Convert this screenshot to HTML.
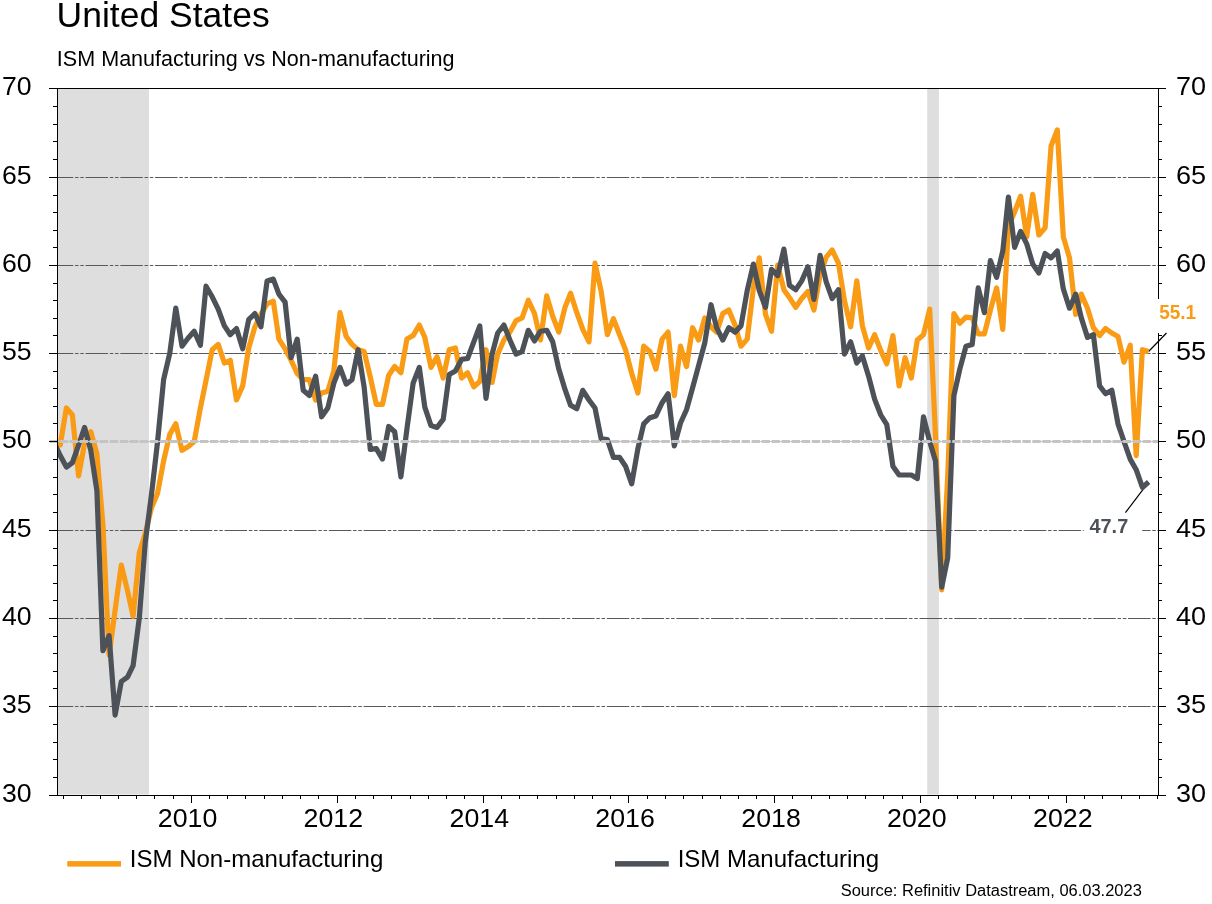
<!DOCTYPE html>
<html lang="en"><head><meta charset="utf-8"><title>United States - ISM Manufacturing vs Non-manufacturing</title>
<style>html,body{margin:0;padding:0;background:#fff}svg{display:block}text{font-family:"Liberation Sans",sans-serif;fill:#000}</style></head><body>
<svg width="1212" height="904" viewBox="0 0 1212 904">
<rect x="0" y="0" width="1212" height="904" fill="#fff"/>
<defs><clipPath id="plot"><rect x="58" y="89" width="1100" height="706"/></clipPath></defs>
<rect x="58" y="89" width="91.0" height="705.5" fill="#dedede"/>
<rect x="927.2" y="89" width="11.7" height="705.5" fill="#dedede"/>
<line x1="50.8" x2="1158" y1="706.5" y2="706.5" stroke="#595959" stroke-width="1" stroke-dasharray="22.5 1.75 3.5 1.75 3.5 1.75"/>
<line x1="50.8" x2="1158" y1="618.5" y2="618.5" stroke="#595959" stroke-width="1" stroke-dasharray="22.5 1.75 3.5 1.75 3.5 1.75"/>
<line x1="50.8" x2="1158" y1="530.5" y2="530.5" stroke="#595959" stroke-width="1" stroke-dasharray="22.5 1.75 3.5 1.75 3.5 1.75"/>
<line x1="50.8" x2="1158" y1="353.5" y2="353.5" stroke="#595959" stroke-width="1" stroke-dasharray="22.5 1.75 3.5 1.75 3.5 1.75"/>
<line x1="50.8" x2="1158" y1="265.5" y2="265.5" stroke="#595959" stroke-width="1" stroke-dasharray="22.5 1.75 3.5 1.75 3.5 1.75"/>
<line x1="50.8" x2="1158" y1="177.5" y2="177.5" stroke="#595959" stroke-width="1" stroke-dasharray="22.5 1.75 3.5 1.75 3.5 1.75"/>
<line x1="1148.6" y1="351.5" x2="1166.5" y2="333" stroke="#000" stroke-width="1.2"/>
<rect x="1083.7" y="513" width="58.5" height="30" fill="#fff"/>
<line x1="1148.6" y1="482.1" x2="1125.4" y2="512.7" stroke="#000" stroke-width="1.2"/>
<g clip-path="url(#plot)" fill="none" stroke-linejoin="round" stroke-linecap="butt">
<path d="M54.4,445.0 L60.2,445.0 L66.4,408.0 L72.4,415.0 L78.6,475.9 L84.6,443.3 L90.8,431.8 L96.9,453.9 L102.9,524.5 L109.1,655.1 L115.1,610.1 L121.3,565.0 L127.5,590.6 L133.1,616.2 L139.3,552.7 L145.3,533.3 L151.5,507.7 L157.5,493.6 L163.6,460.9 L169.8,434.4 L175.8,423.8 L182.0,450.3 L188.0,446.8 L194.2,441.5 L200.4,408.0 L206.0,380.6 L212.2,349.7 L218.2,344.4 L224.4,363.0 L230.3,360.3 L236.5,400.0 L242.7,385.9 L248.7,348.0 L254.9,326.8 L260.9,314.4 L267.1,303.8 L273.3,301.2 L278.9,339.1 L285.1,348.8 L291.1,360.3 L297.2,373.5 L303.2,379.7 L309.4,379.7 L315.6,400.0 L321.6,393.0 L327.8,391.2 L333.8,370.9 L340.0,312.7 L346.2,336.5 L352.0,344.4 L358.1,349.7 L364.1,351.5 L370.3,377.1 L376.3,404.4 L382.5,404.4 L388.7,375.3 L394.7,366.5 L400.9,372.7 L406.9,339.1 L413.1,335.6 L419.3,325.0 L424.8,337.4 L431.0,367.4 L437.0,356.8 L443.2,378.0 L449.2,349.7 L455.4,348.0 L461.6,378.0 L467.6,372.7 L473.8,386.8 L479.8,381.5 L486.0,349.7 L492.1,382.4 L497.7,354.1 L503.9,340.0 L509.9,332.1 L516.1,320.6 L522.1,317.9 L528.3,300.3 L534.5,313.5 L540.5,340.0 L546.7,295.9 L552.7,316.2 L558.8,332.1 L565.0,307.4 L570.6,293.2 L576.8,312.7 L582.8,329.4 L589.0,341.8 L595.0,263.2 L601.2,291.5 L607.4,334.7 L613.4,318.8 L619.6,334.7 L625.5,349.7 L631.7,373.5 L637.9,393.0 L643.7,346.2 L649.9,351.5 L655.9,369.1 L662.1,339.1 L668.1,332.1 L674.3,395.6 L680.5,346.2 L686.5,366.5 L692.6,327.7 L698.6,340.0 L704.8,317.9 L711.0,326.8 L716.6,332.1 L722.8,313.5 L728.8,310.0 L735.0,325.0 L741.0,346.2 L747.2,339.1 L753.4,287.9 L759.3,257.9 L765.5,314.4 L771.5,331.2 L777.7,265.0 L783.9,289.7 L789.5,297.7 L795.7,307.4 L801.7,298.5 L807.9,291.5 L813.9,310.0 L820.1,274.7 L826.2,257.1 L832.2,250.0 L838.4,263.2 L844.4,300.3 L850.6,326.8 L856.8,280.9 L862.4,325.9 L868.6,348.0 L874.6,334.7 L880.8,350.6 L886.8,363.8 L892.9,335.6 L899.1,385.9 L905.1,357.7 L911.3,378.0 L917.3,340.0 L923.5,334.7 L929.7,309.1 L935.5,436.2 L941.7,589.8 L947.7,476.8 L953.9,313.5 L959.8,323.2 L966.0,317.1 L972.2,317.9 L978.2,333.8 L984.4,333.8 L990.4,310.0 L996.6,287.9 L1002.8,329.4 L1008.4,226.2 L1014.6,212.0 L1020.6,196.2 L1026.7,236.8 L1032.7,194.4 L1038.9,235.0 L1045.1,227.9 L1051.1,145.9 L1057.3,130.0 L1063.3,236.8 L1069.5,257.9 L1075.7,314.4 L1081.3,294.1 L1087.5,308.2 L1093.4,327.7 L1099.6,335.6 L1105.6,328.5 L1111.8,333.0 L1118.0,336.5 L1124.0,362.1 L1130.2,345.3 L1136.2,455.6 L1142.4,349.7 L1148.6,351.5" stroke="#f99b14" stroke-width="5.2"/>
<path d="M54.4,443.3 L60.2,455.6 L66.4,467.1 L72.4,462.7 L78.6,445.0 L84.6,427.4 L90.8,450.3 L96.9,490.9 L102.9,650.7 L109.1,635.6 L115.1,715.1 L121.3,681.5 L127.5,677.1 L133.1,665.7 L139.3,618.0 L145.3,542.1 L151.5,494.4 L157.5,442.4 L163.6,379.7 L169.8,353.2 L175.8,308.2 L182.0,346.2 L188.0,338.2 L194.2,331.2 L200.4,345.3 L206.0,286.2 L212.2,296.8 L218.2,309.1 L224.4,325.9 L230.3,334.7 L236.5,328.5 L242.7,348.8 L248.7,319.7 L254.9,313.5 L260.9,326.8 L267.1,280.9 L273.3,279.1 L278.9,294.1 L285.1,302.1 L291.1,357.7 L297.2,339.1 L303.2,390.3 L309.4,395.6 L315.6,376.2 L321.6,416.8 L327.8,408.0 L333.8,383.3 L340.0,367.4 L346.2,384.1 L352.0,379.7 L358.1,349.7 L364.1,386.8 L370.3,449.4 L376.3,448.6 L382.5,459.1 L388.7,426.5 L394.7,431.8 L400.9,476.8 L406.9,429.1 L413.1,383.3 L419.3,367.4 L424.8,407.1 L431.0,425.6 L437.0,427.4 L443.2,419.4 L449.2,374.4 L455.4,370.9 L461.6,359.4 L467.6,358.5 L473.8,341.8 L479.8,325.9 L486.0,398.3 L492.1,354.1 L497.7,333.0 L503.9,325.0 L509.9,340.0 L516.1,354.1 L522.1,351.5 L528.3,330.3 L534.5,340.9 L540.5,331.2 L546.7,330.3 L552.7,341.8 L558.8,369.1 L565.0,389.4 L570.6,405.3 L576.8,408.8 L582.8,390.3 L589.0,400.0 L595.0,408.0 L601.2,438.9 L607.4,439.7 L613.4,457.4 L619.6,457.4 L625.5,466.2 L631.7,483.9 L637.9,448.6 L643.7,423.8 L649.9,417.7 L655.9,415.9 L662.1,402.7 L668.1,393.8 L674.3,445.9 L680.5,423.0 L686.5,409.7 L692.6,387.7 L698.6,365.6 L704.8,342.7 L711.0,304.7 L716.6,327.7 L722.8,340.0 L728.8,327.7 L735.0,332.1 L741.0,325.9 L747.2,290.6 L753.4,264.1 L759.3,290.6 L765.5,307.4 L771.5,269.4 L777.7,275.6 L783.9,249.1 L789.5,285.3 L795.7,289.7 L801.7,280.9 L807.9,266.8 L813.9,299.4 L820.1,255.3 L826.2,281.8 L832.2,298.5 L838.4,289.7 L844.4,354.1 L850.6,341.8 L856.8,363.0 L862.4,355.9 L868.6,376.2 L874.6,399.1 L880.8,415.0 L886.8,424.7 L892.9,466.2 L899.1,475.0 L905.1,475.0 L911.3,475.0 L917.3,478.6 L923.5,416.8 L929.7,441.5 L935.5,460.9 L941.7,587.1 L947.7,558.0 L953.9,395.6 L959.8,369.1 L966.0,346.2 L972.2,344.4 L978.2,287.9 L984.4,312.7 L990.4,260.6 L996.6,277.4 L1002.8,250.9 L1008.4,197.0 L1014.6,247.3 L1020.6,231.5 L1026.7,243.8 L1032.7,264.1 L1038.9,272.9 L1045.1,253.5 L1051.1,257.9 L1057.3,250.9 L1063.3,288.8 L1069.5,308.2 L1075.7,294.1 L1081.3,317.9 L1087.5,337.4 L1093.4,334.7 L1099.6,385.9 L1105.6,393.8 L1111.8,390.3 L1118.0,423.8 L1124.0,441.5 L1130.2,459.1 L1136.2,469.7 L1142.4,487.4 L1148.6,482.1" stroke="#4c5257" stroke-width="5.2"/>
</g>
<line x1="49.6" x2="1158" y1="441.5" y2="441.5" stroke="#c4c4c4" stroke-width="1" stroke-dasharray="58.6 1.7 8.2 1.7"/>
<line x1="49.6" x2="1158" y1="441.5" y2="441.5" stroke="#c4c4c4" stroke-width="3" stroke-dasharray="8.3 1.7 8.3 1.7 8.3 1.7 8.3 1.7 8.3 1.7 8.6 1.7 8.2 1.7"/>
<g stroke="#000" stroke-width="1" shape-rendering="crispEdges">
<line x1="49" x2="1166" y1="88.5" y2="88.5"/>
<line x1="49" x2="1166" y1="795.5" y2="795.5"/>
<line x1="57.5" x2="57.5" y1="88" y2="796"/>
<line x1="1158.5" x2="1158.5" y1="88" y2="299"/>
<line x1="1158.5" x2="1158.5" y1="333" y2="796"/>
<line x1="49" x2="57" y1="795.5" y2="795.5"/>
<line x1="1159" x2="1166" y1="795.5" y2="795.5"/>
<line x1="53" x2="57" y1="777.5" y2="777.5"/>
<line x1="1159" x2="1162" y1="777.5" y2="777.5"/>
<line x1="53" x2="57" y1="759.5" y2="759.5"/>
<line x1="1159" x2="1162" y1="759.5" y2="759.5"/>
<line x1="53" x2="57" y1="742.5" y2="742.5"/>
<line x1="1159" x2="1162" y1="742.5" y2="742.5"/>
<line x1="53" x2="57" y1="724.5" y2="724.5"/>
<line x1="1159" x2="1162" y1="724.5" y2="724.5"/>
<line x1="49" x2="57" y1="706.5" y2="706.5"/>
<line x1="1159" x2="1166" y1="706.5" y2="706.5"/>
<line x1="53" x2="57" y1="688.5" y2="688.5"/>
<line x1="1159" x2="1162" y1="688.5" y2="688.5"/>
<line x1="53" x2="57" y1="671.5" y2="671.5"/>
<line x1="1159" x2="1162" y1="671.5" y2="671.5"/>
<line x1="53" x2="57" y1="653.5" y2="653.5"/>
<line x1="1159" x2="1162" y1="653.5" y2="653.5"/>
<line x1="53" x2="57" y1="636.5" y2="636.5"/>
<line x1="1159" x2="1162" y1="636.5" y2="636.5"/>
<line x1="49" x2="57" y1="618.5" y2="618.5"/>
<line x1="1159" x2="1166" y1="618.5" y2="618.5"/>
<line x1="53" x2="57" y1="600.5" y2="600.5"/>
<line x1="1159" x2="1162" y1="600.5" y2="600.5"/>
<line x1="53" x2="57" y1="583.5" y2="583.5"/>
<line x1="1159" x2="1162" y1="583.5" y2="583.5"/>
<line x1="53" x2="57" y1="565.5" y2="565.5"/>
<line x1="1159" x2="1162" y1="565.5" y2="565.5"/>
<line x1="53" x2="57" y1="548.5" y2="548.5"/>
<line x1="1159" x2="1162" y1="548.5" y2="548.5"/>
<line x1="49" x2="57" y1="530.5" y2="530.5"/>
<line x1="1159" x2="1166" y1="530.5" y2="530.5"/>
<line x1="53" x2="57" y1="512.5" y2="512.5"/>
<line x1="1159" x2="1162" y1="512.5" y2="512.5"/>
<line x1="53" x2="57" y1="494.5" y2="494.5"/>
<line x1="1159" x2="1162" y1="494.5" y2="494.5"/>
<line x1="53" x2="57" y1="477.5" y2="477.5"/>
<line x1="1159" x2="1162" y1="477.5" y2="477.5"/>
<line x1="53" x2="57" y1="459.5" y2="459.5"/>
<line x1="1159" x2="1162" y1="459.5" y2="459.5"/>
<line x1="49" x2="57" y1="441.5" y2="441.5"/>
<line x1="1159" x2="1166" y1="441.5" y2="441.5"/>
<line x1="53" x2="57" y1="423.5" y2="423.5"/>
<line x1="1159" x2="1162" y1="423.5" y2="423.5"/>
<line x1="53" x2="57" y1="406.5" y2="406.5"/>
<line x1="1159" x2="1162" y1="406.5" y2="406.5"/>
<line x1="53" x2="57" y1="388.5" y2="388.5"/>
<line x1="1159" x2="1162" y1="388.5" y2="388.5"/>
<line x1="53" x2="57" y1="371.5" y2="371.5"/>
<line x1="1159" x2="1162" y1="371.5" y2="371.5"/>
<line x1="49" x2="57" y1="353.5" y2="353.5"/>
<line x1="1159" x2="1166" y1="353.5" y2="353.5"/>
<line x1="53" x2="57" y1="335.5" y2="335.5"/>
<line x1="1159" x2="1162" y1="335.5" y2="335.5"/>
<line x1="53" x2="57" y1="318.5" y2="318.5"/>
<line x1="53" x2="57" y1="300.5" y2="300.5"/>
<line x1="53" x2="57" y1="283.5" y2="283.5"/>
<line x1="1159" x2="1162" y1="283.5" y2="283.5"/>
<line x1="49" x2="57" y1="265.5" y2="265.5"/>
<line x1="1159" x2="1166" y1="265.5" y2="265.5"/>
<line x1="53" x2="57" y1="247.5" y2="247.5"/>
<line x1="1159" x2="1162" y1="247.5" y2="247.5"/>
<line x1="53" x2="57" y1="230.5" y2="230.5"/>
<line x1="1159" x2="1162" y1="230.5" y2="230.5"/>
<line x1="53" x2="57" y1="212.5" y2="212.5"/>
<line x1="1159" x2="1162" y1="212.5" y2="212.5"/>
<line x1="53" x2="57" y1="195.5" y2="195.5"/>
<line x1="1159" x2="1162" y1="195.5" y2="195.5"/>
<line x1="49" x2="57" y1="177.5" y2="177.5"/>
<line x1="1159" x2="1166" y1="177.5" y2="177.5"/>
<line x1="53" x2="57" y1="159.5" y2="159.5"/>
<line x1="1159" x2="1162" y1="159.5" y2="159.5"/>
<line x1="53" x2="57" y1="141.5" y2="141.5"/>
<line x1="1159" x2="1162" y1="141.5" y2="141.5"/>
<line x1="53" x2="57" y1="124.5" y2="124.5"/>
<line x1="1159" x2="1162" y1="124.5" y2="124.5"/>
<line x1="53" x2="57" y1="106.5" y2="106.5"/>
<line x1="1159" x2="1162" y1="106.5" y2="106.5"/>
<line x1="49" x2="57" y1="88.5" y2="88.5"/>
<line x1="1159" x2="1166" y1="88.5" y2="88.5"/>
<line x1="63.5" x2="63.5" y1="796" y2="799"/>
<line x1="81.5" x2="81.5" y1="796" y2="799"/>
<line x1="100.5" x2="100.5" y1="796" y2="799"/>
<line x1="118.5" x2="118.5" y1="796" y2="799"/>
<line x1="136.5" x2="136.5" y1="796" y2="799"/>
<line x1="154.5" x2="154.5" y1="796" y2="799"/>
<line x1="173.5" x2="173.5" y1="796" y2="799"/>
<line x1="191.5" x2="191.5" y1="796" y2="803"/>
<line x1="209.5" x2="209.5" y1="796" y2="799"/>
<line x1="227.5" x2="227.5" y1="796" y2="799"/>
<line x1="245.5" x2="245.5" y1="796" y2="799"/>
<line x1="264.5" x2="264.5" y1="796" y2="799"/>
<line x1="282.5" x2="282.5" y1="796" y2="799"/>
<line x1="300.5" x2="300.5" y1="796" y2="799"/>
<line x1="318.5" x2="318.5" y1="796" y2="799"/>
<line x1="337.5" x2="337.5" y1="796" y2="803"/>
<line x1="355.5" x2="355.5" y1="796" y2="799"/>
<line x1="373.5" x2="373.5" y1="796" y2="799"/>
<line x1="391.5" x2="391.5" y1="796" y2="799"/>
<line x1="410.5" x2="410.5" y1="796" y2="799"/>
<line x1="428.5" x2="428.5" y1="796" y2="799"/>
<line x1="446.5" x2="446.5" y1="796" y2="799"/>
<line x1="464.5" x2="464.5" y1="796" y2="799"/>
<line x1="483.5" x2="483.5" y1="796" y2="803"/>
<line x1="501.5" x2="501.5" y1="796" y2="799"/>
<line x1="519.5" x2="519.5" y1="796" y2="799"/>
<line x1="537.5" x2="537.5" y1="796" y2="799"/>
<line x1="556.5" x2="556.5" y1="796" y2="799"/>
<line x1="574.5" x2="574.5" y1="796" y2="799"/>
<line x1="592.5" x2="592.5" y1="796" y2="799"/>
<line x1="610.5" x2="610.5" y1="796" y2="799"/>
<line x1="628.5" x2="628.5" y1="796" y2="803"/>
<line x1="647.5" x2="647.5" y1="796" y2="799"/>
<line x1="665.5" x2="665.5" y1="796" y2="799"/>
<line x1="683.5" x2="683.5" y1="796" y2="799"/>
<line x1="702.5" x2="702.5" y1="796" y2="799"/>
<line x1="720.5" x2="720.5" y1="796" y2="799"/>
<line x1="738.5" x2="738.5" y1="796" y2="799"/>
<line x1="756.5" x2="756.5" y1="796" y2="799"/>
<line x1="774.5" x2="774.5" y1="796" y2="803"/>
<line x1="792.5" x2="792.5" y1="796" y2="799"/>
<line x1="811.5" x2="811.5" y1="796" y2="799"/>
<line x1="829.5" x2="829.5" y1="796" y2="799"/>
<line x1="847.5" x2="847.5" y1="796" y2="799"/>
<line x1="865.5" x2="865.5" y1="796" y2="799"/>
<line x1="883.5" x2="883.5" y1="796" y2="799"/>
<line x1="902.5" x2="902.5" y1="796" y2="799"/>
<line x1="920.5" x2="920.5" y1="796" y2="803"/>
<line x1="938.5" x2="938.5" y1="796" y2="799"/>
<line x1="957.5" x2="957.5" y1="796" y2="799"/>
<line x1="975.5" x2="975.5" y1="796" y2="799"/>
<line x1="993.5" x2="993.5" y1="796" y2="799"/>
<line x1="1011.5" x2="1011.5" y1="796" y2="799"/>
<line x1="1029.5" x2="1029.5" y1="796" y2="799"/>
<line x1="1048.5" x2="1048.5" y1="796" y2="799"/>
<line x1="1066.5" x2="1066.5" y1="796" y2="803"/>
<line x1="1084.5" x2="1084.5" y1="796" y2="799"/>
<line x1="1102.5" x2="1102.5" y1="796" y2="799"/>
<line x1="1121.5" x2="1121.5" y1="796" y2="799"/>
<line x1="1139.5" x2="1139.5" y1="796" y2="799"/>
<line x1="1157.5" x2="1157.5" y1="796" y2="799"/>
</g>
<text x="1.95" y="801.95" font-size="25.4" textLength="29.66" lengthAdjust="spacingAndGlyphs">30</text>
<text x="1176.03" y="801.95" font-size="25.4" textLength="30.10" lengthAdjust="spacingAndGlyphs">30</text>
<text x="1.95" y="712.95" font-size="25.4" textLength="29.66" lengthAdjust="spacingAndGlyphs">35</text>
<text x="1176.03" y="712.95" font-size="25.4" textLength="30.10" lengthAdjust="spacingAndGlyphs">35</text>
<text x="1.95" y="624.95" font-size="25.4" textLength="29.66" lengthAdjust="spacingAndGlyphs">40</text>
<text x="1176.03" y="624.95" font-size="25.4" textLength="30.10" lengthAdjust="spacingAndGlyphs">40</text>
<text x="1.95" y="536.95" font-size="25.4" textLength="29.66" lengthAdjust="spacingAndGlyphs">45</text>
<text x="1176.03" y="536.95" font-size="25.4" textLength="30.10" lengthAdjust="spacingAndGlyphs">45</text>
<text x="1.95" y="447.95" font-size="25.4" textLength="29.66" lengthAdjust="spacingAndGlyphs">50</text>
<text x="1176.03" y="447.95" font-size="25.4" textLength="30.10" lengthAdjust="spacingAndGlyphs">50</text>
<text x="1.95" y="359.95" font-size="25.4" textLength="29.66" lengthAdjust="spacingAndGlyphs">55</text>
<text x="1176.03" y="359.95" font-size="25.4" textLength="30.10" lengthAdjust="spacingAndGlyphs">55</text>
<text x="1.95" y="271.95" font-size="25.4" textLength="29.66" lengthAdjust="spacingAndGlyphs">60</text>
<text x="1176.03" y="271.95" font-size="25.4" textLength="30.10" lengthAdjust="spacingAndGlyphs">60</text>
<text x="1.95" y="183.95" font-size="25.4" textLength="29.66" lengthAdjust="spacingAndGlyphs">65</text>
<text x="1176.03" y="183.95" font-size="25.4" textLength="30.10" lengthAdjust="spacingAndGlyphs">65</text>
<text x="1.95" y="94.95" font-size="25.4" textLength="29.66" lengthAdjust="spacingAndGlyphs">70</text>
<text x="1176.03" y="94.95" font-size="25.4" textLength="30.10" lengthAdjust="spacingAndGlyphs">70</text>
<text x="157.75" y="826.8" font-size="25.4" textLength="59.52" lengthAdjust="spacingAndGlyphs">2010</text>
<text x="303.53" y="826.8" font-size="25.4" textLength="59.52" lengthAdjust="spacingAndGlyphs">2012</text>
<text x="449.51" y="826.8" font-size="25.4" textLength="59.52" lengthAdjust="spacingAndGlyphs">2014</text>
<text x="595.29" y="826.8" font-size="25.4" textLength="59.52" lengthAdjust="spacingAndGlyphs">2016</text>
<text x="741.27" y="826.8" font-size="25.4" textLength="59.52" lengthAdjust="spacingAndGlyphs">2018</text>
<text x="887.05" y="826.8" font-size="25.4" textLength="59.52" lengthAdjust="spacingAndGlyphs">2020</text>
<text x="1033.03" y="826.8" font-size="25.4" textLength="59.52" lengthAdjust="spacingAndGlyphs">2022</text>
<text x="56.56" y="27.10" font-size="35.0" font-weight="normal" style="fill:#000" textLength="213.08" lengthAdjust="spacingAndGlyphs">United States</text>
<text x="56.88" y="65.85" font-size="21.3" font-weight="normal" style="fill:#000" textLength="397.72" lengthAdjust="spacingAndGlyphs">ISM Manufacturing vs Non-manufacturing</text>
<rect x="67.3" y="861.1" width="53.7" height="5.5" fill="#f99b14"/>
<text x="129.85" y="866.60" font-size="23.4" font-weight="normal" style="fill:#000" textLength="253.49" lengthAdjust="spacingAndGlyphs">ISM Non-manufacturing</text>
<rect x="615" y="861.1" width="53.8" height="5.5" fill="#4c5257"/>
<text x="677.65" y="866.60" font-size="23.4" font-weight="normal" style="fill:#000" textLength="201.40" lengthAdjust="spacingAndGlyphs">ISM Manufacturing</text>
<text x="840.67" y="896.30" font-size="16" font-weight="normal" style="fill:#000" textLength="301.16" lengthAdjust="spacingAndGlyphs">Source: Refinitiv Datastream, 06.03.2023</text>
<text x="1159.14" y="318.80" font-size="19.8" font-weight="bold" style="fill:#f99b14" textLength="36.95" lengthAdjust="spacingAndGlyphs">55.1</text>
<text x="1089.50" y="532.90" font-size="19.8" font-weight="bold" style="fill:#4c5257" textLength="38.72" lengthAdjust="spacingAndGlyphs">47.7</text>
</svg></body></html>
